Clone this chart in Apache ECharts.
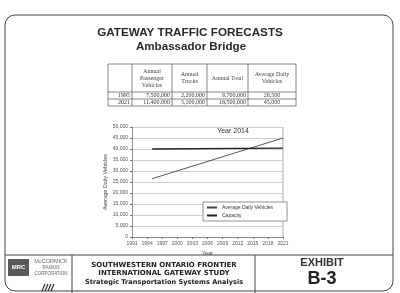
<!DOCTYPE html>
<html><head><meta charset="utf-8">
<script src="https://cdn.jsdelivr.net/npm/echarts@6/dist/echarts.min.js"></script>
<style>html,body{margin:0;padding:0;background:#fff}#c{width:400px;height:293px}</style>
</head><body><div id="c"></div>
<script>
// ---- data ----
var years = [];
for (var y = 1991; y <= 2021; y++) years.push(String(y));
var advPoints = [['1995', 26500], ['2021', 45000]];
var capacityPoints = [['1995', 40000], ['2021', 40400]];
var yTicks = [0, 5000, 10000, 15000, 20000, 25000, 30000, 35000, 40000, 45000, 50000];
var tableHeaders = ['', 'Annual\nPassenger\nVehicles', 'Annual\nTrucks', 'Annual Total', 'Average Daily\nVehicles'];
var tableYears = ['1995', '2021'];
var tablePassenger = [7500000, 11400000];
var tableTrucks = [2200000, 5100000];
var tableTotal = [9700000, 16500000];
var tableDaily = [26500, 45000];
var seriesNames = ['Average Daily Vehicles', 'Capacity'];
var title1 = 'GATEWAY TRAFFIC FORECASTS';
var title2 = 'Ambassador Bridge';
var annotation = 'Year 2014';
var footerLines = ['SOUTHWESTERN ONTARIO FRONTIER', 'INTERNATIONAL GATEWAY STUDY', 'Strategic Transportation Systems Analysis'];
var companyLines = ['McCORMICK', 'RANKIN', 'CORPORATION'];

function fmt(n){ return n.toLocaleString('en-US'); }

var chart = echarts.init(document.getElementById('c'), null, {renderer:'canvas'});
var ink = '#2a2a2a';
var gfx = [];
// page border
gfx.push({type:'rect', shape:{x:5, y:15, width:388, height:276, r:10}, style:{fill:'none', stroke:'#444', lineWidth:1}});
// titles
gfx.push({type:'text', x:190, y:33, style:{text:title1, font:'bold 11.7px "Liberation Sans", Arial', fill:ink, align:'center', verticalAlign:'middle'}});
gfx.push({type:'text', x:191, y:47, style:{text:title2, font:'bold 11.6px "Liberation Sans", Arial', fill:ink, align:'center', verticalAlign:'middle'}});
// table
var colX = [108, 132, 172, 207, 248, 296];
var rowY = [64, 92, 99, 106];
var tl = {stroke:'#555', lineWidth:0.7};
gfx.push({type:'rect', shape:{x:colX[0], y:rowY[0], width:colX[5]-colX[0], height:rowY[3]-rowY[0]}, style:{fill:'none', stroke:'#555', lineWidth:0.7}});
for (var i = 1; i < 5; i++) gfx.push({type:'line', shape:{x1:colX[i], y1:rowY[0], x2:colX[i], y2:rowY[3]}, style:tl});
gfx.push({type:'line', shape:{x1:colX[0], y1:rowY[1], x2:colX[5], y2:rowY[1]}, style:tl});
gfx.push({type:'line', shape:{x1:colX[0], y1:rowY[2], x2:colX[5], y2:rowY[2]}, style:tl});
var tf = '6px "Liberation Serif", "Times New Roman", serif';
for (var i = 1; i < 5; i++) {
  gfx.push({type:'text', x:(colX[i]+colX[i+1])/2, y:(rowY[0]+rowY[1])/2, style:{text:tableHeaders[i], font:tf, fill:'#444', align:'center', verticalAlign:'middle', lineHeight:7}});
}
var cols = [tableYears, tablePassenger.map(fmt), tableTrucks.map(fmt), tableTotal.map(fmt), tableDaily.map(fmt)];
for (var r = 0; r < 2; r++) {
  var cy = (rowY[r+1]+rowY[r+2])/2;
  for (var c = 0; c < 5; c++) {
    var centered = (c === 4);
    gfx.push({type:'text', x: centered ? (colX[c]+colX[c+1])/2 : colX[c+1]-2, y:cy,
      style:{text:cols[c][r], font:tf, fill:'#333', align: centered ? 'center' : 'right', verticalAlign:'middle'}});
  }
}
// plot right frame
gfx.push({type:'line', shape:{x1:283, y1:127, x2:283, y2:237}, style:{stroke:'#999', lineWidth:0.8}});
// annotation
gfx.push({type:'text', x:233, y:131, style:{text:annotation, font:'7px "Liberation Sans", Arial', fill:'#333', align:'center', verticalAlign:'middle'}});
// footer
gfx.push({type:'line', shape:{x1:5, y1:255, x2:393, y2:255}, style:{stroke:'#444', lineWidth:1}});
gfx.push({type:'line', shape:{x1:72, y1:255, x2:72, y2:293}, style:{stroke:'#444', lineWidth:1}});
gfx.push({type:'line', shape:{x1:255, y1:255, x2:255, y2:293}, style:{stroke:'#444', lineWidth:1}});
gfx.push({type:'rect', shape:{x:8, y:259, width:21, height:17}, style:{fill:'#5a5a5a'}});
gfx.push({type:'text', x:18.5, y:267.5, style:{text:'MRC', font:'bold 6px "Liberation Sans", Arial', fill:'#fff', align:'center', verticalAlign:'middle'}});
for (var i = 0; i < 3; i++) {
  gfx.push({type:'text', x:51, y:261 + i*6.5, style:{text:companyLines[i], font:(i===0?'5.5px':'4.5px')+' "Liberation Sans", Arial', fill:'#666', align:'center', verticalAlign:'middle'}});
}
for (var i = 0; i < 4; i++) {
  gfx.push({type:'line', shape:{x1:42+i*3, y1:291, x2:45+i*3, y2:284}, style:{stroke:'#333', lineWidth:1.2}});
}
for (var i = 0; i < 3; i++) {
  gfx.push({type:'text', x:164, y:265 + i*8.5, style:{text:footerLines[i], font:(i===2?'bold 6.6px':'bold 7px')+' "DejaVu Sans", Verdana, sans-serif', fill:'#222', align:'center', verticalAlign:'middle'}});
}
gfx.push({type:'text', x:322, y:263, style:{text:'EXHIBIT', font:'bold 11px "Liberation Sans", Arial', fill:'#333', align:'center', verticalAlign:'middle'}});
gfx.push({type:'text', x:322, y:279, style:{text:'B-3', font:'bold 18px "Liberation Sans", Arial', fill:'#222', align:'center', verticalAlign:'middle'}});

var option = {
  animation:false,
  backgroundColor:'#fff',
  textStyle:{fontFamily:'"Liberation Sans", Arial'},
  grid:{left:132, right:117, top:127, bottom:56, containLabel:false},
  xAxis:{type:'category', data:years, boundaryGap:false, name:'Year', nameLocation:'middle', nameGap:13,
    nameTextStyle:{fontSize:5.5, color:'#444'},
    axisLine:{lineStyle:{color:'#777', width:0.8}},
    axisTick:{interval:2, length:2, lineStyle:{color:'#777'}},
    axisLabel:{interval:2, fontSize:5, color:'#555', margin:4}},
  yAxis:{type:'value', min:0, max:50000, interval:5000, name:'Average Daily Vehicles', nameLocation:'middle', nameGap:24,
    nameTextStyle:{fontSize:5.5, color:'#444'},
    axisLine:{show:true, lineStyle:{color:'#777', width:0.8}},
    axisTick:{show:true, length:2, lineStyle:{color:'#777'}},
    axisLabel:{fontSize:5, color:'#555', margin:4, formatter:function(v){return yTicks.indexOf(v)>=0 ? fmt(v) : '';}},
    splitLine:{lineStyle:{color:'#bbb', width:0.7}}},
  legend:{orient:'vertical', left:203, top:202, itemWidth:10, itemHeight:2, itemGap:3,
    padding:[3, 14, 3, 3], borderColor:'#666', borderWidth:0.7, backgroundColor:'#fff',
    textStyle:{fontSize:5, color:'#333'}, data:seriesNames},
  series:[
    {name:seriesNames[0], type:'line', data:advPoints, symbol:'none', lineStyle:{color:'#444', width:0.9}, itemStyle:{color:'#444'}},
    {name:seriesNames[1], type:'line', data:capacityPoints, symbol:'none', lineStyle:{color:'#222', width:1.3}, itemStyle:{color:'#222'}}
  ],
  graphic:gfx
};
chart.setOption(option);
</script></body></html>
